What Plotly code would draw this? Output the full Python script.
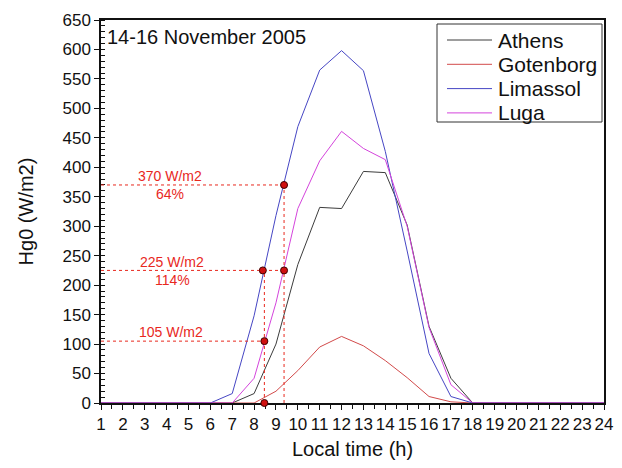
import plotly.graph_objects as go

hours = list(range(1, 25))
hour_labels = [str(h) for h in hours]

series_names = ["Athens", "Gotenborg", "Limassol", "Luga"]
athens = [0, 0, 0, 0, 0, 0, 0, 16, 100, 235, 332, 330, 393, 391, 302, 130, 42, 0, 0, 0, 0, 0, 0, 0]
gotenborg = [0, 0, 0, 0, 0, 0, 0, 0, 20, 55, 95, 113, 97, 72, 43, 11, 2, 0, 0, 0, 0, 0, 0, 0]
limassol = [0, 0, 0, 0, 0, 0, 16, 148, 318, 469, 565, 598, 564, 427, 258, 84, 11, 0, 0, 0, 0, 0, 0, 0]
luga = [0, 0, 0, 0, 0, 0, 0, 42, 170, 330, 411, 461, 432, 413, 300, 128, 31, 0, 0, 0, 0, 0, 0, 0]
series_values = [athens, gotenborg, limassol, luga]
series_colors = ["#3c3c3c", "#d24a4a", "#4646c4", "#d444dc"]

# marked points (local time, W/m2)
dot_x = [8.4, 8.47, 8.47, 9.37, 9.37]
dot_y = [225, 105, 0, 370, 225]
# guide lines: horizontal levels and their right end, vertical positions and their top
h_levels = [370, 225, 105]
h_ends = [9.37, 9.37, 8.47]
v_pos = [8.47, 9.37]
v_tops = [225, 370]
# annotation texts with their positions
note_texts = ["370 W/m2", "64%", "225 W/m2", "114%", "105 W/m2"]
note_x = [4.15, 4.15, 4.25, 4.25, 4.2]
note_y = [386, 355, 240, 208, 121]

RED = "#e8281e"
FONT = "Arial, Liberation Sans, sans-serif"

# page body has an 8px margin; figure sized so page is exactly 622x468
W, H = 606, 452
PX0, PX1, PY0, PY1 = 93, 596, 12, 395   # plot area in figure pixels

fig = go.Figure()

for name, vals, col in zip(series_names, series_values, series_colors):
    fig.add_trace(go.Scatter(x=hours, y=vals, mode="lines", name=name,
                             line=dict(color=col, width=1), showlegend=False,
                             cliponaxis=False))

for lvl, xe in zip(h_levels, h_ends):
    fig.add_trace(go.Scatter(x=[1, xe], y=[lvl, lvl], mode="lines", showlegend=False,
                             line=dict(color=RED, width=1, dash="dot")))
for xv, top in zip(v_pos, v_tops):
    fig.add_trace(go.Scatter(x=[xv, xv], y=[0, top], mode="lines", showlegend=False,
                             line=dict(color=RED, width=1, dash="dot")))

fig.add_trace(go.Scatter(x=dot_x, y=dot_y, mode="markers", showlegend=False, cliponaxis=False,
                         marker=dict(size=7, color="#d01010", line=dict(color="#400000", width=1))))

for t, xx, yy in zip(note_texts, note_x, note_y):
    fig.add_annotation(x=xx, y=yy, text=t, showarrow=False, xref="x", yref="y",
                       font=dict(family=FONT, size=14, color=RED))

# title inside plot
fig.add_annotation(x=0.008, y=0.99, xref="paper", yref="paper", xanchor="left", yanchor="top",
                   text="14-16 November 2005", showarrow=False,
                   font=dict(family=FONT, size=20, color="#111111"))

pw, ph = PX1 - PX0, PY1 - PY0
def px(x):
    return (x - 8 - PX0) / pw
def py(y):
    return (PY1 - (y - 8)) / ph

# legend box (drawn in paper coordinates, reference page pixels)
fig.add_shape(type="rect", xref="paper", yref="paper", x0=px(437), x1=px(602), y0=py(122), y1=py(24),
              line=dict(color="#333333", width=1), fillcolor="white", layer="above")
for i, (name, col) in enumerate(zip(series_names, series_colors)):
    yy = py(40 + i * 24.3)
    fig.add_shape(type="line", xref="paper", yref="paper",
                  x0=px(447), x1=px(492), y0=yy, y1=yy,
                  line=dict(color=col, width=1), layer="above")
    fig.add_annotation(x=px(496), y=yy, xref="paper", yref="paper",
                       xanchor="left", yanchor="middle", text=name, showarrow=False,
                       font=dict(family=FONT, size=21, color="#111111"))

fig.update_layout(
    width=W, height=H,
    margin=dict(l=PX0, r=W - PX1, t=PY0, b=H - PY1, autoexpand=False),
    paper_bgcolor="white", plot_bgcolor="white",
    font=dict(family=FONT, size=17, color="#111111"),
    showlegend=False,
)
fig.update_xaxes(
    range=[1, 24], tickvals=hours, ticktext=hour_labels,
    showgrid=False, zeroline=False, automargin=False,
    showline=True, linecolor="#111111", linewidth=1.5, mirror=True,
    ticks="outside", ticklen=5, tickcolor="#111111", tickwidth=1.2,
    minor=dict(dtick=0.5, ticks="outside", ticklen=4, tickcolor="#111111", tickwidth=1),
    tickfont=dict(size=17),
    title=dict(text="Local time (h)", font=dict(size=20), standoff=12),
    layer="below traces",
)
fig.update_yaxes(
    range=[0, 650], dtick=50, tick0=0,
    showgrid=False, zeroline=False, automargin=False,
    showline=True, linecolor="#111111", linewidth=1.5, mirror=True,
    ticks="outside", ticklen=5, tickcolor="#111111", tickwidth=1.2,
    minor=dict(dtick=10, ticks="inside", ticklen=4, tickcolor="#111111", tickwidth=1),
    tickfont=dict(size=17),
    title=dict(text="Hg0 (W/m2)", font=dict(size=20), standoff=23),
    layer="below traces",
)

fig.write_html("out.html")
